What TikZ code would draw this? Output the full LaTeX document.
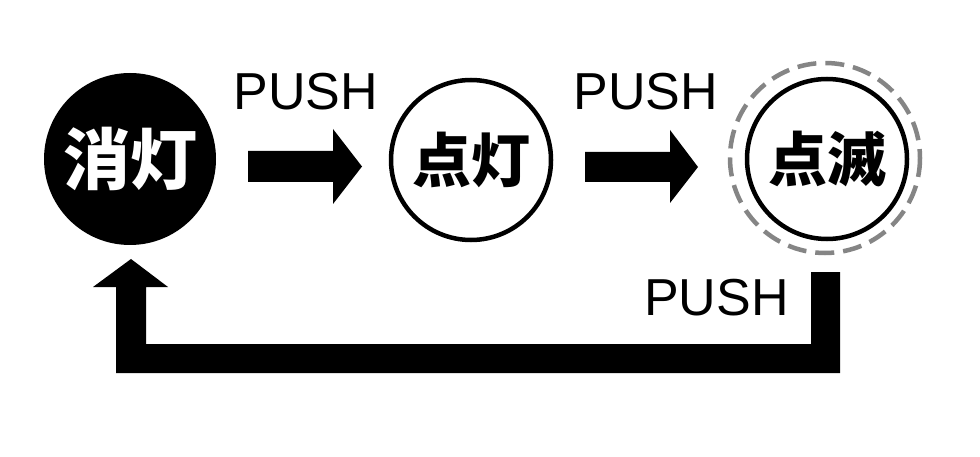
\documentclass[tikz,border=0pt]{standalone}
\usepackage{fontspec}
\setmainfont{Liberation Sans}
\newfontfamily\cjkfont{Noto Sans CJK JP}[BoldFont={Noto Sans CJK JP Black}]
\begin{document}
\begin{tikzpicture}[x=1pt,y=-1pt,
  statecirc/.style={circle,draw=black,line width=4.5pt,minimum size=160pt,inner sep=0pt,
    font=\cjkfont\bfseries\fontsize{59}{59}\selectfont},
  offcirc/.style={circle,fill=black,text=white,minimum size=172pt,inner sep=0pt,
    font=\cjkfont\bfseries\fontsize{67}{67}\selectfont},
  pushlbl/.style={inner sep=0pt,anchor=base,font=\fontsize{52}{52}\selectfont},
  blockarrow/.style={fill=black}]
\useasboundingbox (0,0) rectangle (980,457);
\fill[white] (0,0) rectangle (980,457);

\node[offcirc] (off) at (130,159) {消灯};
\node[statecirc] (on) at (471,160) {点灯};
\node[statecirc] (blink) at (827,159) {点滅};
\draw[draw=black!48,line width=4.5pt,dash pattern=on 19pt off 9pt] (825,158) circle[radius=95];

\node[pushlbl] (p1) at (306,110) {PUSH};
\node[pushlbl] (p2) at (646,110) {PUSH};
\node[pushlbl] (p3) at (716.5,315) {PUSH};

% arrow off -> on
\fill[blockarrow] (248,151) -- (333,151) -- (333,129) -- (362,166.5) -- (333,204) -- (333,182) -- (248,182) -- cycle;
% arrow on -> blink
\fill[blockarrow] (585,152) -- (670,152) -- (670,130) -- (698,167) -- (670,203) -- (670,182) -- (585,182) -- cycle;
% return arrow blink -> off
\fill[blockarrow] (811,272) -- (840,272) -- (840,373) -- (116,373) -- (116,287) -- (93,287) -- (131,259)
  -- (168,287) -- (146,287) -- (146,344) -- (811,344) -- cycle;
\end{tikzpicture}
\end{document}
